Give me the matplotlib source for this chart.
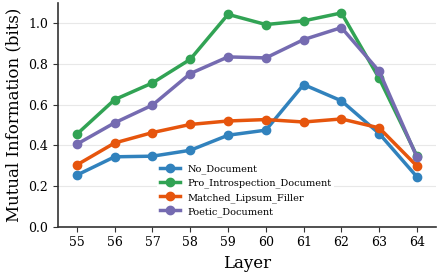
import matplotlib
matplotlib.use("Agg")
import matplotlib.pyplot as plt

"Data read from the reference"
layers = [55, 56, 57, 58, 59, 60, 61, 62, 63, 64]
no_document = [0.253, 0.343, 0.346, 0.375, 0.449, 0.474, 0.698, 0.618, 0.457, 0.244]
pro_introspection = [0.454, 0.624, 0.706, 0.822, 1.043, 0.993, 1.011, 1.050, 0.728, 0.346]
matched_lipsum = [0.303, 0.411, 0.462, 0.502, 0.519, 0.526, 0.514, 0.529, 0.485, 0.297]
poetic_document = [0.405, 0.510, 0.597, 0.752, 0.834, 0.829, 0.919, 0.978, 0.763, 0.340]

series = [
    ("No_Document", no_document, "#3182bd"),
    ("Pro_Introspection_Document", pro_introspection, "#31a354"),
    ("Matched_Lipsum_Filler", matched_lipsum, "#e6550d"),
    ("Poetic_Document", poetic_document, "#756bb1"),
]

plt.rcParams['font.family'] = 'DejaVu Serif'

fig, ax = plt.subplots(figsize=(4.39, 2.77), dpi=100)
for name, vals, col in series:
    ax.plot(layers, vals, marker='o', color=col, lw=2.5, ms=6, label=name)

ax.set_xlim(54.5, 64.5)
ax.set_ylim(0, 1.1)
ax.set_xticks(layers)
ax.set_yticks([0.0, 0.2, 0.4, 0.6, 0.8, 1.0])
ax.set_xlabel("Layer", fontsize=12)
ax.set_ylabel("Mutual Information (bits)", fontsize=12)
ax.tick_params(labelsize=9, color='#333333')
ax.yaxis.grid(True, color='#e8e8e8', lw=0.8)
ax.set_axisbelow(True)
for s in ['top', 'right']:
    ax.spines[s].set_visible(False)
for s in ['left', 'bottom']:
    ax.spines[s].set_color('#333333')
    ax.spines[s].set_linewidth(1.2)

leg = ax.legend(loc='lower left', bbox_to_anchor=(0.25, 0.01), fontsize=7,
                frameon=True, framealpha=1, edgecolor='none',
                handlelength=2.0, labelspacing=0.45, borderpad=0.3)

plt.subplots_adjust(left=0.132, right=0.993, top=0.99, bottom=0.182)
plt.savefig('out.png', dpi=100)
